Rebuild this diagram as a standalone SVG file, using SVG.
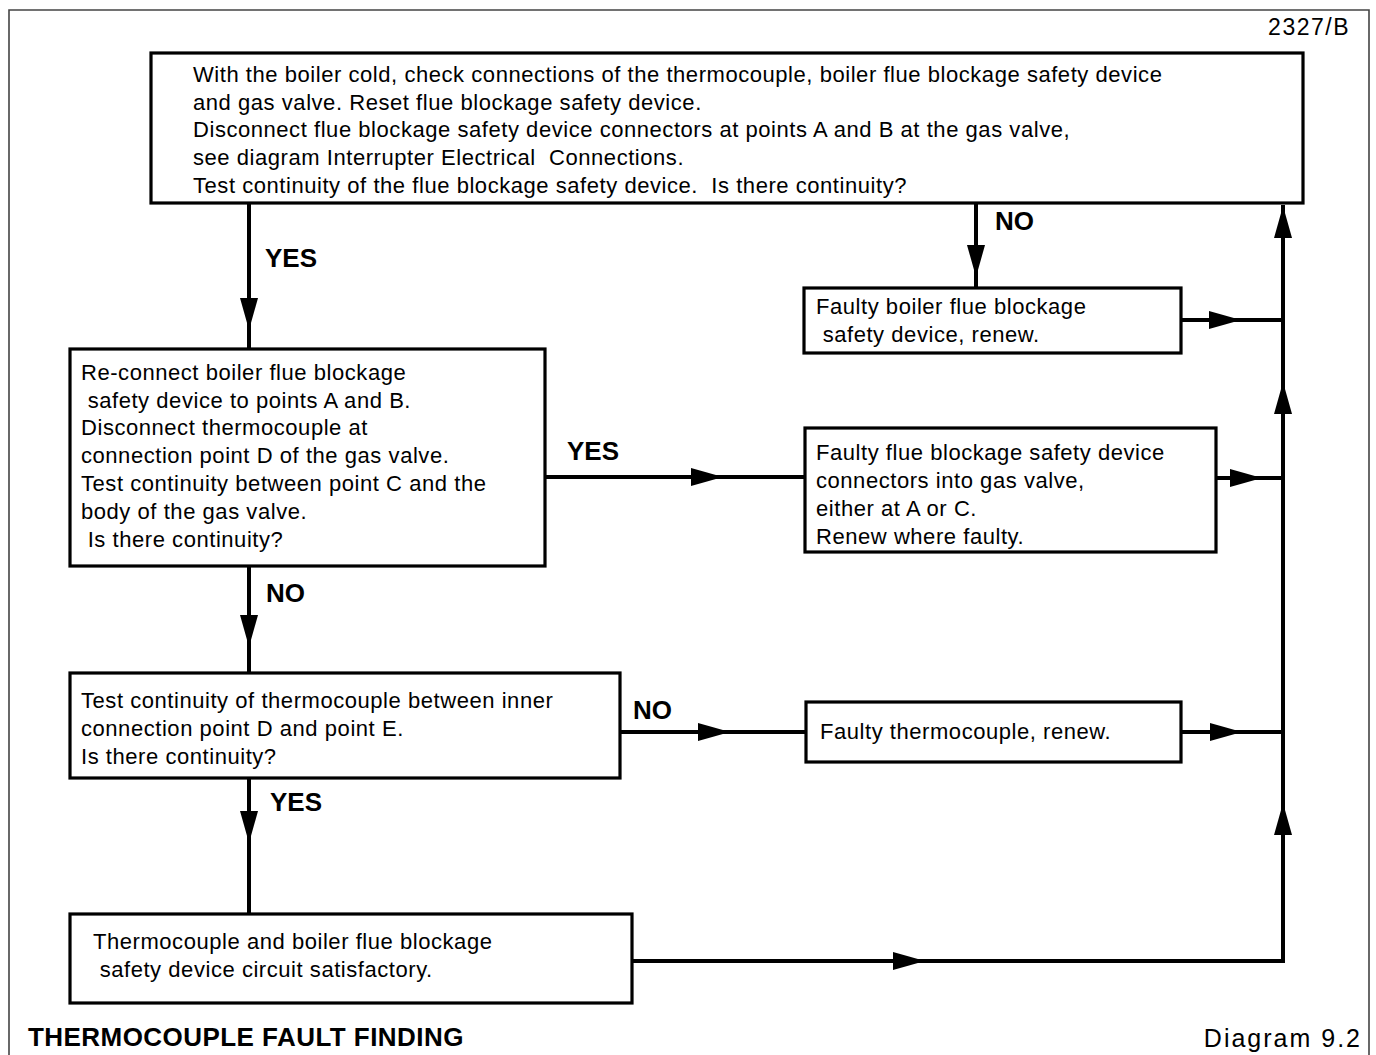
<svg xmlns="http://www.w3.org/2000/svg" width="1376" height="1055" viewBox="0 0 1376 1055">
<defs>
<style>
.box{fill:#fff;stroke:#000;stroke-width:3.2}
.ln{fill:none;stroke:#000;stroke-width:4}
.t{font-family:"Liberation Sans",Arial,sans-serif;font-size:22px;letter-spacing:0.55px;fill:#000}
.lb{font-family:"Liberation Sans",Arial,sans-serif;font-size:26px;font-weight:bold;fill:#000}
</style>
<path id="ah" d="M0,0 L-32,-9 L-32,9 Z" fill="#000"/>
</defs>
<rect width="1376" height="1055" fill="#fff"/>
<path d="M9,1055 V10 H1369 V1055" fill="none" stroke="#444" stroke-width="1.6"/>
<text x="1350" y="35" text-anchor="end" style="font-family:'Liberation Sans',Arial,sans-serif;font-size:23px;letter-spacing:1.5px">2327/B</text>

<g id="connectors">
<path class="ln" d="M249,203 V349 M249,566 V673 M249,778 V914 M976,203 V288 M545,477 H805 M620,732 H806 M632,961 H1283 V205 M1181,320 H1283 M1216,478 H1283 M1181,732 H1283"/>
<use href="#ah" transform="translate(249,330) rotate(90)"/>
<use href="#ah" transform="translate(976,277) rotate(90)"/>
<use href="#ah" transform="translate(249,647) rotate(90)"/>
<use href="#ah" transform="translate(249,843) rotate(90)"/>
<use href="#ah" transform="translate(723,477)"/>
<use href="#ah" transform="translate(730,732)"/>
<use href="#ah" transform="translate(925,961)"/>
<use href="#ah" transform="translate(1241,320)"/>
<use href="#ah" transform="translate(1262,478)"/>
<use href="#ah" transform="translate(1242,732)"/>
<use href="#ah" transform="translate(1283,206) rotate(-90)"/>
<use href="#ah" transform="translate(1283,382) rotate(-90)"/>
<use href="#ah" transform="translate(1283,803) rotate(-90)"/>
<text class="lb" x="265" y="267">YES</text>
<text class="lb" x="567" y="460">YES</text>
<text class="lb" x="995" y="230">NO</text>
<text class="lb" x="266" y="602">NO</text>
<text class="lb" x="633" y="719">NO</text>
<text class="lb" x="270" y="811">YES</text>
</g>

<g id="n1">
<rect class="box" x="151" y="53" width="1152" height="150"/>
<text class="t" xml:space="preserve"><tspan x="193" y="82">With the boiler cold, check connections of the thermocouple, boiler flue blockage safety device</tspan><tspan x="193" y="110">and gas valve. Reset flue blockage safety device.</tspan><tspan x="193" y="137">Disconnect flue blockage safety device connectors at points A and B at the gas valve,</tspan><tspan x="193" y="165">see diagram Interrupter Electrical  Connections.</tspan><tspan x="193" y="193">Test continuity of the flue blockage safety device.  Is there continuity?</tspan></text>
</g>

<g id="n2">
<rect class="box" x="804" y="288" width="377" height="65"/>
<text class="t" xml:space="preserve"><tspan x="816" y="314">Faulty boiler flue blockage</tspan><tspan x="816" y="342"> safety device, renew.</tspan></text>
</g>

<g id="n3">
<rect class="box" x="70" y="349" width="475" height="217"/>
<text class="t" xml:space="preserve"><tspan x="81" y="380">Re-connect boiler flue blockage</tspan><tspan x="81" y="408"> safety device to points A and B.</tspan><tspan x="81" y="435">Disconnect thermocouple at</tspan><tspan x="81" y="463">connection point D of the gas valve.</tspan><tspan x="81" y="491">Test continuity between point C and the</tspan><tspan x="81" y="519">body of the gas valve.</tspan><tspan x="81" y="547"> Is there continuity?</tspan></text>
</g>

<g id="n4">
<rect class="box" x="805" y="428" width="411" height="124"/>
<text class="t" xml:space="preserve"><tspan x="816" y="460">Faulty flue blockage safety device</tspan><tspan x="816" y="488">connectors into gas valve,</tspan><tspan x="816" y="516">either at A or C.</tspan><tspan x="816" y="544">Renew where faulty.</tspan></text>
</g>

<g id="n5">
<rect class="box" x="70" y="673" width="550" height="105"/>
<text class="t" xml:space="preserve"><tspan x="81" y="708">Test continuity of thermocouple between inner</tspan><tspan x="81" y="736">connection point D and point E.</tspan><tspan x="81" y="764">Is there continuity?</tspan></text>
</g>

<g id="n6">
<rect class="box" x="806" y="702" width="375" height="60"/>
<text class="t" x="820" y="739">Faulty thermocouple, renew.</text>
</g>

<g id="n7">
<rect class="box" x="70" y="914" width="562" height="89"/>
<text class="t" xml:space="preserve"><tspan x="93" y="949">Thermocouple and boiler flue blockage</tspan><tspan x="93" y="977"> safety device circuit satisfactory.</tspan></text>
</g>

<text x="28" y="1046" style="font-family:'Liberation Sans',Arial,sans-serif;font-size:26px;font-weight:bold;letter-spacing:0.45px">THERMOCOUPLE FAULT FINDING</text>
<text x="1362" y="1047" text-anchor="end" style="font-family:'Liberation Sans',Arial,sans-serif;font-size:25px;letter-spacing:2px">Diagram 9.2</text>
</svg>
